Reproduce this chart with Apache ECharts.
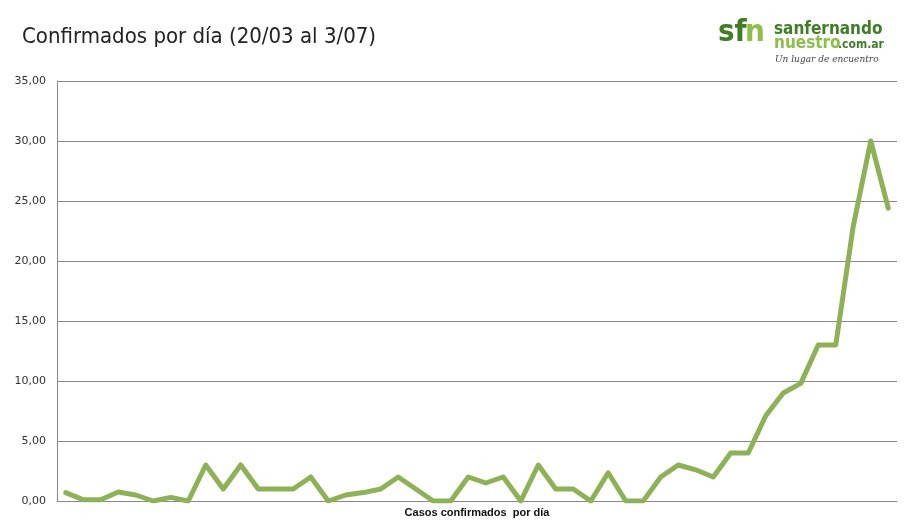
<!DOCTYPE html>
<html>
<head>
<meta charset="utf-8">
<script src="https://cdn.jsdelivr.net/npm/echarts@6/dist/echarts.min.js"></script>
<style>
html,body{margin:0;padding:0;background:#fff;}
#chart{width:909px;height:532px;}
</style>
</head>
<body>
<div id="chart"></div>
<script>
var titleText = 'Confirmados por día (20/03 al 3/07)';
var axisTitle = 'Casos confirmados  por día';
var categories = ['1','2','3','4','5','6','7','8','9','10','11','12','13','14','15','16','17','18','19','20','21','22','23','24','25','26','27','28','29','30','31','32','33','34','35','36','37','38','39','40','41','42','43','44','45','46','47','48'];
var casos = [0.7,0.1,0.1,0.75,0.5,0,0.3,0,3,1,3,1,1,1,2,0,0.5,0.7,1,2,1,0,0,2,1.5,2,0,3,1,1,0,2.35,0,0,2,3,2.6,2,4,4,7.1,9,9.8,13,13,22.9,30,24.4];
var yTicks = [0,5,10,15,20,25,30,35];

var chart = echarts.init(document.getElementById('chart'), null, {renderer:'canvas'});
chart.setOption({
  backgroundColor:'#ffffff',
  animation:false,
  title:{
    text:titleText, left:22, top:26, padding:0,
    textStyle:{fontFamily:'"DejaVu Sans Condensed", "Roboto"', fontSize:22, fontWeight:'normal', color:'#222'}
  },
  graphic:[
    {type:'text', left:718, top:17, style:{text:'sf', font:'bold 31px "DejaVu Sans Condensed", "DejaVu Sans"', fill:'#3f7d26'}},
    {type:'text', left:745, top:17, style:{text:'n', font:'bold 31px "DejaVu Sans Condensed", "DejaVu Sans"', fill:'#8cc04a'}},
    {type:'text', left:774, top:21, style:{text:'sanfernando', font:'bold 17px "DejaVu Sans Condensed", "DejaVu Sans"', fill:'#3f7d26'}},
    {type:'text', left:774, top:35, style:{text:'nuestro', font:'bold 17px "DejaVu Sans Condensed", "DejaVu Sans"', fill:'#8cc04a'}},
    {type:'text', left:838, top:39, style:{text:'.com.ar', font:'bold 12px "DejaVu Sans Condensed", "DejaVu Sans"', fill:'#3f7d26'}},
    {type:'text', left:775, top:55, style:{text:'Un lugar de encuentro', font:'italic 9px "DejaVu Serif"', fill:'#444'}}
  ],
  grid:{left:57, right:12, top:81, bottom:31, containLabel:false},
  xAxis:{
    type:'category', data:categories, boundaryGap:true,
    axisLine:{show:true, lineStyle:{color:'#888', width:1}},
    axisTick:{show:false}, axisLabel:{show:false}, splitLine:{show:false},
    name:axisTitle, nameLocation:'middle', nameGap:6,
    nameTextStyle:{fontFamily:'Liberation Sans', fontSize:11, fontWeight:'bold', color:'#111'}
  },
  yAxis:{
    type:'value', min:yTicks[0], max:yTicks[yTicks.length-1], interval:5,
    axisLine:{show:true, lineStyle:{color:'#888', width:1}},
    axisTick:{show:false},
    axisLabel:{margin:11, fontFamily:'DejaVu Sans', fontSize:11, color:'#333',
      formatter:function(v){return v.toFixed(2).replace('.',',');}},
    splitLine:{show:true, lineStyle:{color:'#888', width:1}}
  },
  series:[{
    type:'line', data:casos, showSymbol:false, symbol:'none',
    lineStyle:{color:'#8db256', width:5, join:'round', cap:'round'}
  }]
});
</script>
</body>
</html>
